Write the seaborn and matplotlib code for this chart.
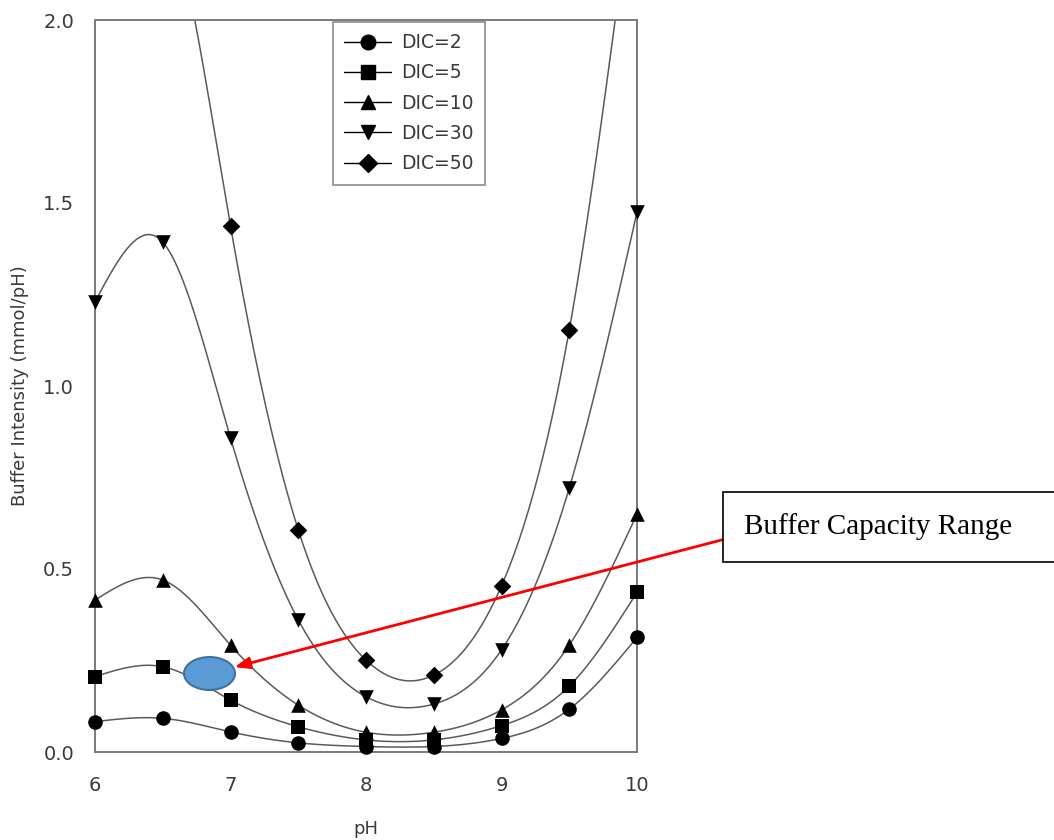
import numpy as np
import matplotlib
matplotlib.use("Agg")
import matplotlib.pyplot as plt
import seaborn as sns
from matplotlib.lines import Line2D
from matplotlib.patches import Ellipse, Rectangle

# ---- data ----
ph = [6.0, 6.5, 7.0, 7.5, 8.0, 8.5, 9.0, 9.5, 10.0]
dic2 = [0.083, 0.092, 0.055, 0.025, 0.015, 0.015, 0.037, 0.117, 0.313]
dic5 = [0.206, 0.233, 0.142, 0.069, 0.033, 0.033, 0.072, 0.180, 0.436]
dic10 = [0.415, 0.470, 0.292, 0.128, 0.054, 0.054, 0.115, 0.292, 0.650]
dic30 = [1.230, 1.393, 0.858, 0.361, 0.151, 0.131, 0.279, 0.721, 1.475]
dic50 = [2.05, 2.33, 1.437, 0.607, 0.251, 0.210, 0.454, 1.153, 2.46]
labels = ["DIC=2", "DIC=5", "DIC=10", "DIC=30", "DIC=50"]
markers = ["o", "s", "^", "v", "D"]
annot_text = "Buffer Capacity Range"

YMAX = 2.0


def natural_spline(x, y, n=400):
    x = np.asarray(x, float)
    y = np.asarray(y, float)
    m = len(x)
    h = np.diff(x)
    A = np.zeros((m, m))
    b = np.zeros(m)
    A[0, 0] = 1
    A[-1, -1] = 1
    for i in range(1, m - 1):
        A[i, i - 1] = h[i - 1]
        A[i, i] = 2 * (h[i - 1] + h[i])
        A[i, i + 1] = h[i]
        b[i] = 3 * ((y[i + 1] - y[i]) / h[i] - (y[i] - y[i - 1]) / h[i - 1])
    c = np.linalg.solve(A, b)
    xs = np.linspace(x[0], x[-1], n)
    idx = np.clip(np.searchsorted(x, xs) - 1, 0, m - 2)
    dx = xs - x[idx]
    bb = (y[1:] - y[:-1]) / h - h * (2 * c[:-1] + c[1:]) / 3
    d = (c[1:] - c[:-1]) / (3 * h)
    ys = y[idx] + bb[idx] * dx + c[idx] * dx ** 2 + d[idx] * dx ** 3
    return xs, ys


sns.set_style("white")
plt.rcParams["font.family"] = ["DejaVu Sans"]

fig = plt.figure(figsize=(10.54, 8.4), dpi=100)
ax = fig.add_axes([95 / 1054, 1 - 752 / 840, (637 - 95) / 1054, (752 - 20) / 840])

line_col = "#5a5a5a"
text_col = "#3a3a3a"
series = [dic2, dic5, dic10, dic30, dic50]
msizes = {"o": 10.5, "s": 9.5, "^": 10.5, "v": 10.5, "D": 9}
handles = []
for vals, lab, mk in zip(series, labels, markers):
    xs, ys = natural_spline(ph, vals)
    sns.lineplot(x=xs, y=ys, ax=ax, color=line_col, lw=1.1, sort=False)
    v = np.asarray(vals)
    p = np.asarray(ph)
    vis = v <= YMAX
    ms = msizes[mk]
    sns.scatterplot(x=p[vis], y=v[vis], ax=ax, marker=mk, color="black",
                    s=ms ** 2, edgecolor="black", linewidth=0, zorder=5)
    handles.append(Line2D([], [], color="black", lw=1.0, marker=mk,
                          markersize=ms, markerfacecolor="black"))
for coll in ax.collections:
    coll.set_clip_on(False)

ax.set_xlim(6, 10)
ax.set_ylim(0, YMAX)
ax.set_xticks([6, 7, 8, 9, 10])
ax.set_yticks([0, 0.5, 1.0, 1.5, 2.0])
ax.set_yticklabels(["0.0", "0.5", "1.0", "1.5", "2.0"])
for s in ax.spines.values():
    s.set_color("#7a7a7a")
    s.set_linewidth(1.4)
ax.tick_params(axis="both", direction="out", length=10, width=1.3, color="#7a7a7a",
               labelsize=14, labelcolor=text_col)
ax.tick_params(axis="x", pad=7)
ax.tick_params(axis="y", pad=5)
ax.set_xlabel("pH", fontsize=13, color=text_col, labelpad=18)
ax.set_ylabel("Buffer Intensity (mmol/pH)", fontsize=13, color=text_col)
ax.yaxis.set_label_coords(-(95 - 29) / 542, 0.5)

leg = ax.legend(handles, labels, loc="upper left",
                bbox_to_anchor=((333 - 95) / 542, 1 - 2 / 732),
                fontsize=13.5, frameon=True, fancybox=False, handlelength=2.5,
                handletextpad=0.55, labelspacing=0.6, borderpad=0.6,
                borderaxespad=0, labelcolor=text_col)
leg.get_frame().set_edgecolor("#7a7a7a")
leg.get_frame().set_linewidth(1.3)

# ellipse and arrow annotation
ax.add_patch(Ellipse((6.845, 0.2145), 0.376, 0.090, facecolor="#5b9bd5",
                     edgecolor="#41719c", lw=1.5, zorder=6))
ax.annotate("", xy=(7.03, 0.232), xycoords="data",
            xytext=(733 / 1054, 1 - 537 / 840), textcoords="figure fraction",
            arrowprops=dict(arrowstyle="-|>,head_length=0.9,head_width=0.35",
                            color="#ff0000", lw=2, shrinkA=0, shrinkB=0),
            annotation_clip=False, zorder=7)

fig.patches.append(Rectangle((723 / 1054, 1 - 562 / 840), 400 / 1054, 70 / 840,
                             transform=fig.transFigure, facecolor="white",
                             edgecolor="black", lw=1.2, zorder=8))
fig.text(744 / 1054, 1 - 527 / 840, annot_text, family="Liberation Serif",
         fontsize=21, va="center", ha="left", color="black", zorder=9)

fig.savefig("out.png", dpi=100)
